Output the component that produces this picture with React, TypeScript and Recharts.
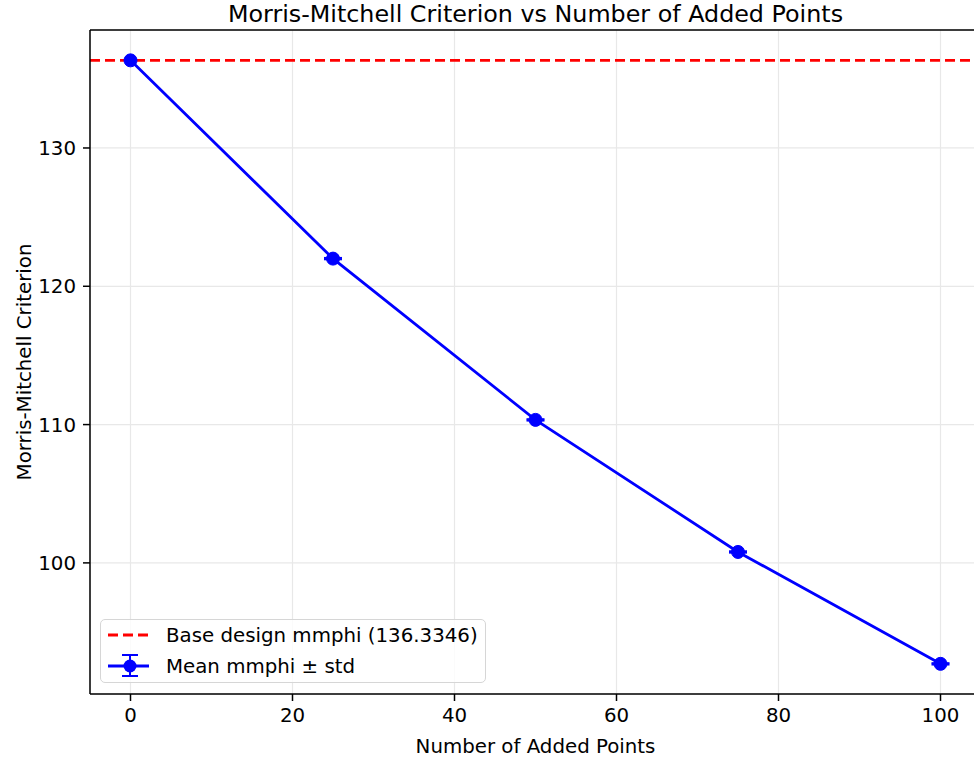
import React from "react";
import {
    LineChart,
    Line,
    CartesianGrid,
    XAxis,
    YAxis,
    ReferenceLine,
    ErrorBar,
    Legend,
} from "recharts";

// Values
const addedPoints = [0, 25, 50, 75, 100];
const meanMmphi = [136.3346, 122.0, 110.34, 100.79, 92.7];
const stdMmphi = [0.0, 0.05, 0.05, 0.05, 0.05];
const baseMmphi = 136.3346;

const xTicks = [0, 20, 40, 60, 80, 100];
const yTicks = [100, 110, 120, 130];
const xDomain = [-5, 105];
const yDomain = [90.52, 138.53];

const chartData = addedPoints.map((x, i) => ({
    x,
    mean: meanMmphi[i],
    std: stdMmphi[i],
}));

const FONT = "'DejaVu Sans', sans-serif";
const FS = 19.8;

function LegendBox() {
    return (
        <div
            style={{
                position: "relative",
                width: 386,
                height: 64,
                boxSizing: "border-box",
                border: "1.5px solid #d6d6d6",
                borderRadius: 5,
                background: "rgba(255,255,255,0.8)",
                fontFamily: FONT,
                fontSize: FS,
                color: "#000",
            }}
        >
            <svg width={50} height={64} style={{ position: "absolute", left: 0, top: 0 }}>
                <line
                    x1={7}
                    y1={15}
                    x2={48}
                    y2={15}
                    stroke="#ff0000"
                    strokeWidth={2.8}
                    strokeDasharray="10 5"
                />
                <line x1={7} y1={46} x2={48} y2={46} stroke="#0000ff" strokeWidth={2.8} />
                <line x1={29} y1={35} x2={29} y2={56} stroke="#0000ff" strokeWidth={2} />
                <line x1={21} y1={35} x2={37} y2={35} stroke="#0000ff" strokeWidth={2} />
                <line x1={21} y1={56} x2={37} y2={56} stroke="#0000ff" strokeWidth={2} />
                <circle cx={29} cy={46} r={6.5} fill="#0000ff" />
            </svg>
            <div style={{ position: "absolute", left: 65, top: 15, transform: "translateY(-50%)", whiteSpace: "nowrap" }}>
                Base design mmphi ({baseMmphi.toFixed(4)})
            </div>
            <div style={{ position: "absolute", left: 65, top: 46, transform: "translateY(-50%)", whiteSpace: "nowrap" }}>
                Mean mmphi ± std
            </div>
        </div>
    );
}

export default function App() {
    return (
        <div
            style={{
                position: "absolute",
                left: 0,
                top: 0,
                width: 974,
                height: 759,
                overflow: "hidden",
                background: "#fff",
            }}
        >
            <div
                style={{
                    position: "absolute",
                    top: 0,
                    left: 90,
                    width: 891,
                    textAlign: "center",
                    fontFamily: FONT,
                    fontSize: 23.8,
                    whiteSpace: "nowrap",
                    zIndex: 2,
                }}
            >
                Morris-Mitchell Criterion vs Number of Added Points
            </div>
            <LineChart
                width={990}
                height={759}
                data={chartData}
                margin={{ top: 30, right: 9, bottom: 5, left: 10 }}
            >
                <CartesianGrid stroke="#e8e8e8" strokeWidth={1.2} />
                <XAxis
                    dataKey="x"
                    type="number"
                    domain={xDomain}
                    ticks={xTicks}
                    allowDataOverflow
                    height={60}
                    tickSize={7}
                    tickMargin={7}
                    stroke="#000"
                    strokeWidth={1.5}
                    tick={{ fill: "#000", fontSize: FS, fontFamily: FONT }}
                    label={{
                        value: "Number of Added Points",
                        position: "insideBottom",
                        offset: 1,
                        fill: "#000",
                        fontSize: FS,
                        fontFamily: FONT,
                    }}
                />
                <YAxis
                    type="number"
                    domain={yDomain}
                    ticks={yTicks}
                    allowDataOverflow
                    width={80}
                    tickSize={7}
                    tickMargin={7}
                    stroke="#000"
                    strokeWidth={1.5}
                    tick={{ fill: "#000", fontSize: FS, fontFamily: FONT }}
                    label={{
                        value: "Morris-Mitchell Criterion",
                        angle: -90,
                        position: "insideLeft",
                        offset: 14,
                        style: { textAnchor: "middle" },
                        fill: "#000",
                        fontSize: FS,
                        fontFamily: FONT,
                    }}
                />
                {/* top spine */}
                <ReferenceLine y={yDomain[1]} stroke="#000" strokeWidth={1.5} />
                <ReferenceLine
                    y={baseMmphi}
                    stroke="#ff0000"
                    strokeWidth={2.8}
                    strokeDasharray="10 5"
                />
                <Line
                    dataKey="mean"
                    type="linear"
                    stroke="#0000ff"
                    strokeWidth={2.8}
                    dot={{ r: 6.5, fill: "#0000ff", stroke: "#0000ff", strokeWidth: 1 }}
                    isAnimationActive={false}
                >
                    <ErrorBar dataKey="std" width={9} stroke="#0000ff" strokeWidth={2} direction="y" />
                </Line>
                <Legend
                    layout="horizontal"
                    verticalAlign="middle"
                    align="center"
                    wrapperStyle={{ left: 100, top: 619, width: 386 }}
                    content={() => <LegendBox />}
                />
            </LineChart>
        </div>
    );
}
